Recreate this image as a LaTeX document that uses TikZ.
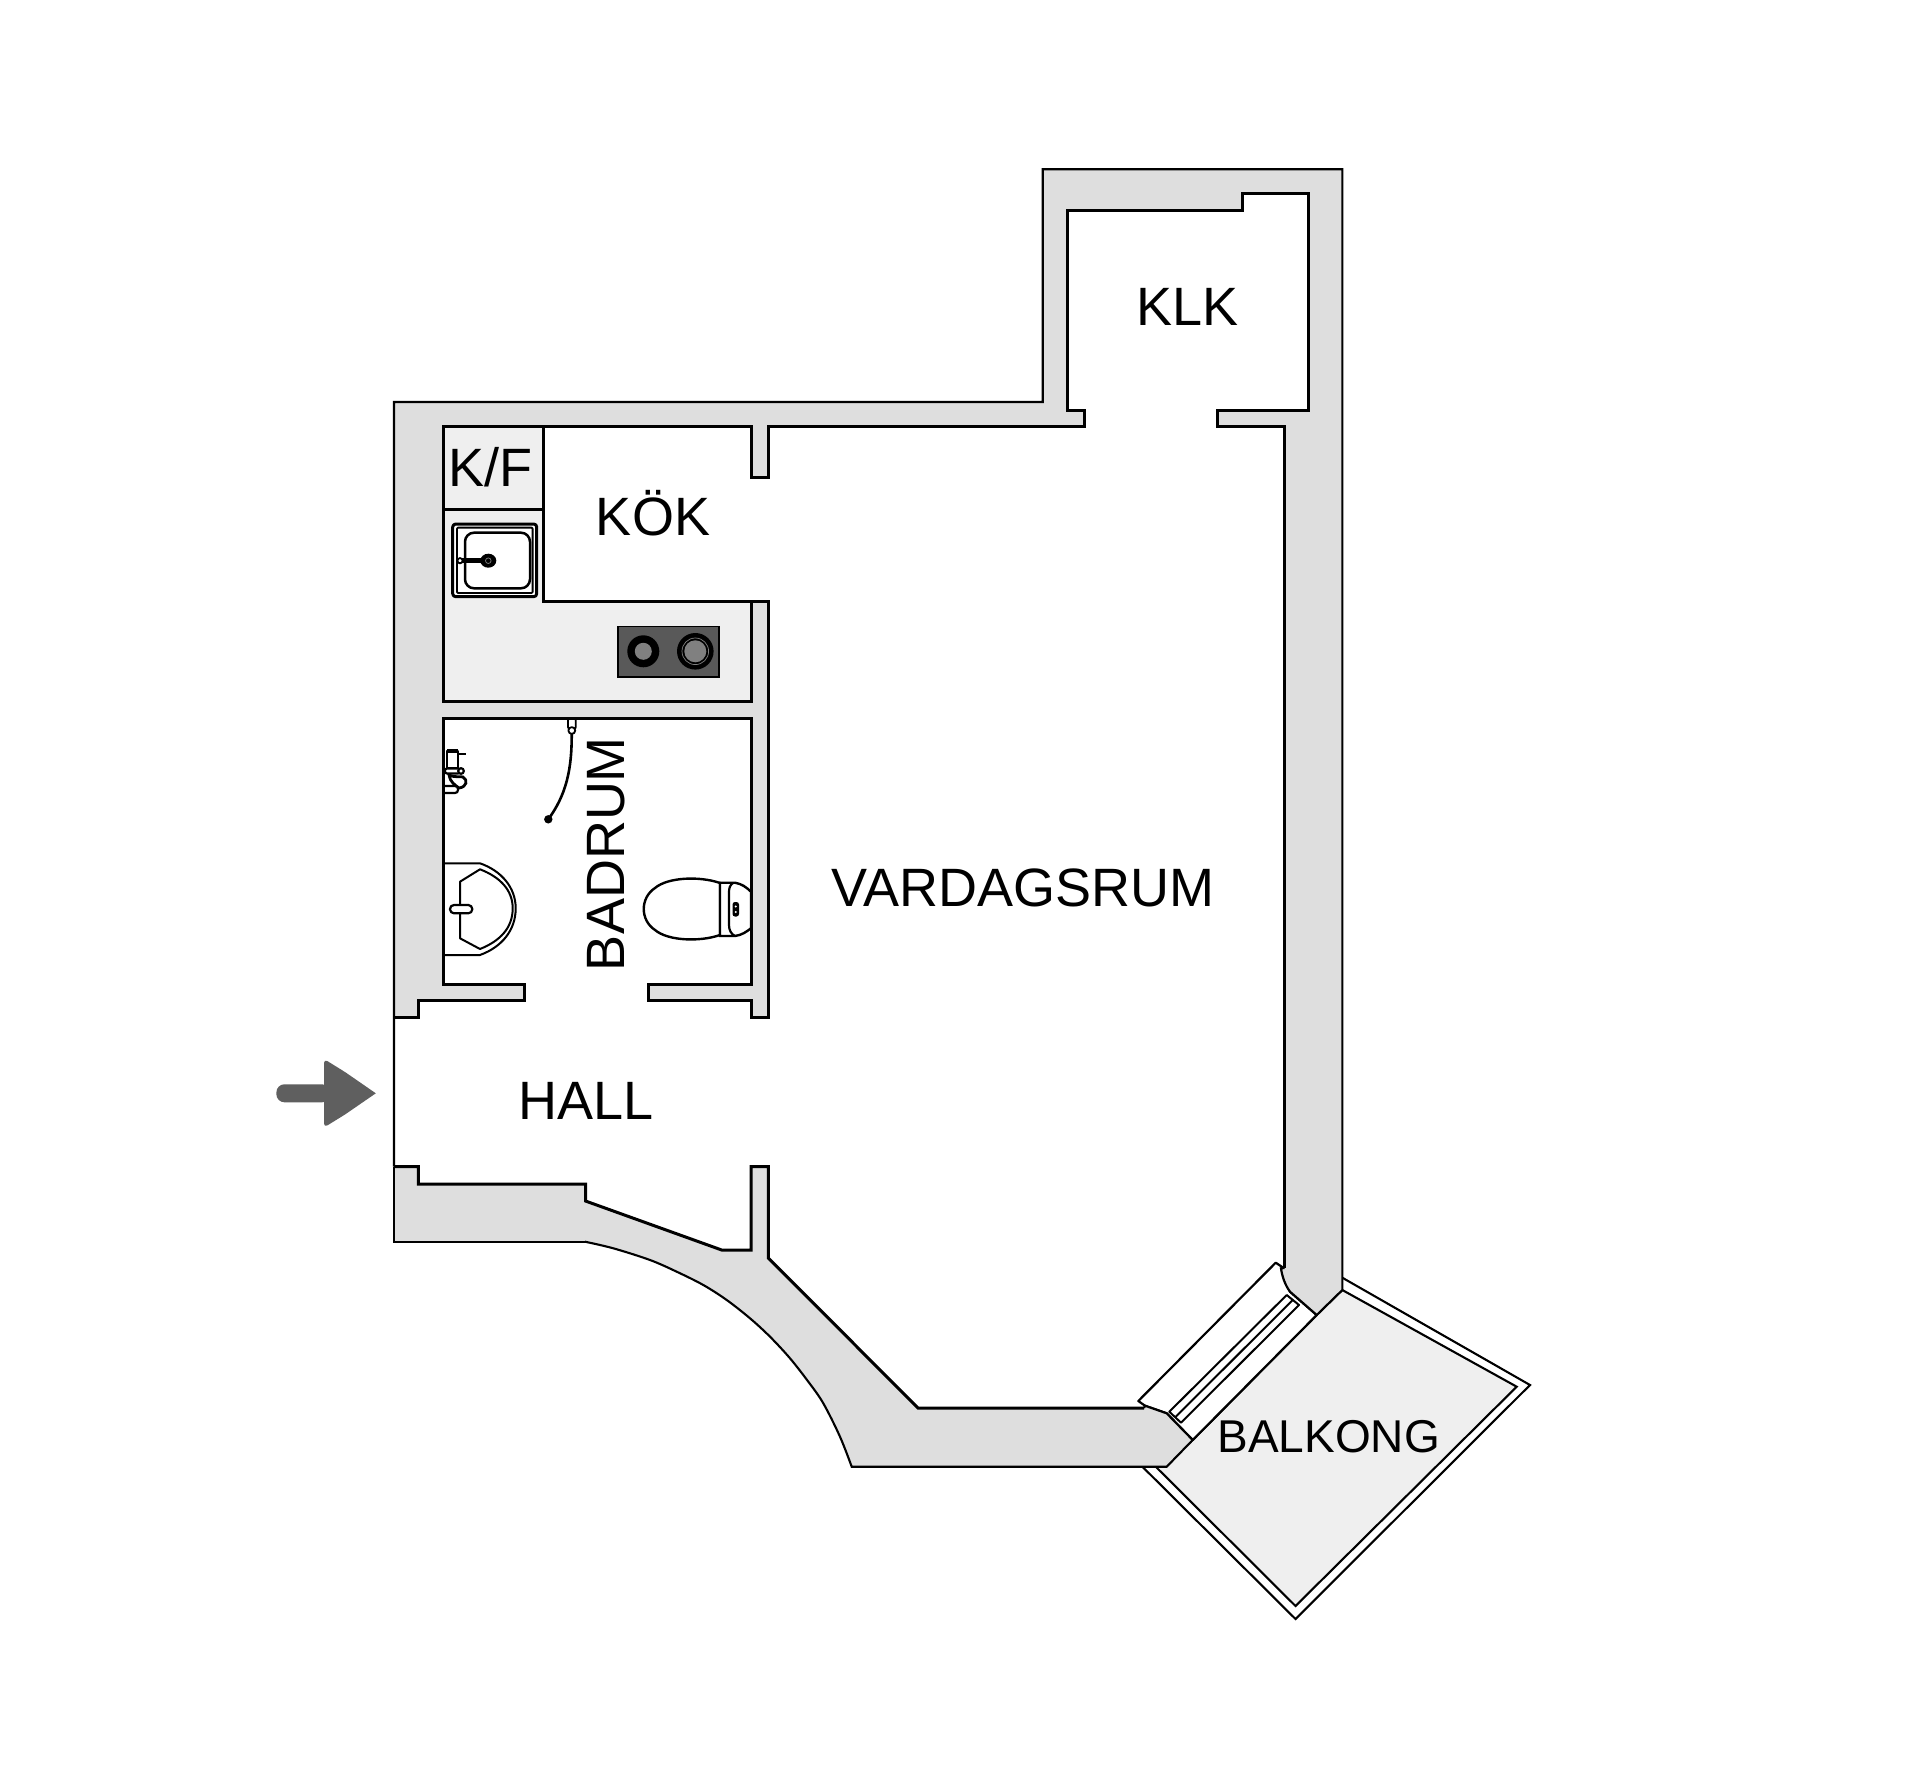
\documentclass[tikz,border=0pt]{standalone}
\usepackage{fontspec}
\setmainfont{Liberation Sans}
\definecolor{wallgray}{HTML}{DEDEDE}
\definecolor{benchgray}{HTML}{EFEFEF}
\definecolor{arrowgray}{HTML}{5F5F5F}
\definecolor{hobgray}{HTML}{595959}
\definecolor{plategray}{HTML}{808080}
\tikzset{
  wallfill/.style={fill=wallgray,draw=none},
  outerline/.style={draw=black,line width=2.1pt,line join=miter},
  innerline/.style={draw=black,line width=3pt,line join=miter},
  fixture/.style={draw=black,line width=2pt,fill=white,line join=round},
  thinline/.style={draw=black,line width=2pt,line join=round},
  roomlabel/.style={anchor=base,inner sep=0pt,font=\fontsize{54}{60}\selectfont,text=black},
}
\begin{document}
\begin{tikzpicture}[x=1pt,y=-1pt]
\useasboundingbox (0,0) rectangle (1920,1787);
\fill[white] (0,0) rectangle (1920,1787);

% balcony
\path[fill=white,outerline] (1342.3,1277.7) -- (1530,1385) -- (1295.5,1619) -- (1142.7,1467) -- cycle;
\path[fill=benchgray,outerline] (1342.3,1290) -- (1516.7,1386.7) -- (1295.5,1606) -- (1156,1467) -- (1192.7,1440) -- (1316.7,1315) -- cycle;

% window recess
\path[fill=white,thinline,line width=2.2pt] (1283.3,1267.7) -- (1275.7,1262.7) -- (1138.3,1401) -- (1145,1405.7) -- (1166.7,1413.3) -- (1192.7,1440) -- (1316.7,1315) -- (1290,1291.7) -- cycle;
\path[fill=white,thinline] (1286.7,1295) -- (1299,1305) -- (1181,1422.7) -- (1169.3,1411.7) -- cycle;
\draw[thinline] (1292.8,1300) -- (1175.2,1417.2);

% kitchen bench
\path[fill=benchgray] (443.3,426.7) -- (543.3,426.7) -- (543.3,601.3) -- (751,601.3) -- (751,701) -- (443.3,701) -- cycle;
\draw[innerline] (543.3,426.7) -- (543.3,601.3) -- (751,601.3);
\draw[innerline] (443.3,509.3) -- (543.3,509.3);

% kitchen sink
\draw[fixture,line width=3pt,rounded corners=3pt] (452.7,524) rectangle (536.7,596.7);
\draw[thinline,line width=1.8pt,rounded corners=1pt] (457,527.6) rectangle (532.6,593);
\draw[thinline,line width=2.5pt,rounded corners=9pt] (465,532.7) rectangle (530,588.3);
\draw[line width=4.5pt] (460,560.7) -- (488.3,560.7);
\fill[black] (488.3,560.7) ellipse (8 and 7);
\draw[plategray,line width=.7pt] (488.3,560.7) circle (2.8);
\draw[fill=white,line width=1.8pt] (460,560.7) circle (2.6);

% hob
\path[fill=hobgray,draw=black,line width=1.6pt] (617.8,626.5) rectangle (718.8,676.8);
\fill[black] (643.3,651.3) circle (16);
\fill[plategray] (643.3,651.3) circle (8.5);
\fill[black] (695.3,651.3) circle (18.3);
\fill[plategray] (695.3,651.3) circle (11);
\draw[plategray,line width=.7pt] (695.3,651.3) circle (13.3);

% shower
\draw[line width=2.6pt] (571.7,733) .. controls (572,770) and (566,795) .. (548.3,819.3);
\fill[black] (548.3,819.3) circle (4.2);
\draw[fixture,line width=1.8pt,rounded corners=2pt] (568,718.3) rectangle (575.8,729);
\draw[fixture,line width=1.8pt] (571.8,730.5) circle (3.4);

% wall tap
\draw[line width=1.2pt] (446,754) -- (466,754);
\draw[fixture,line width=2.8pt] (447,751) rectangle (458,768);
\draw[line width=3.4pt] (447,751) -- (458,751);
\draw[fixture,line width=2.2pt,rounded corners=2pt] (445,768.5) rectangle (460,773.5);
\draw[fill=white,line width=2.2pt] (461,771) circle (2.8);
\path[fill=white,draw=black,line width=2.8pt] (449,775) .. controls (456,778) and (460,776) .. (463,777) .. controls (468,780) and (467,787) .. (459,788) .. controls (455,785) and (450,782) .. (449,775) -- cycle;
\path[fill=white,draw=black,line width=2.2pt,rounded corners=3pt] (445,786) -- (458,786) -- (458,793) -- (445,793);

% basin
\draw[fixture] (443.3,863.3) -- (480,863.3) .. controls (502,871) and (515.7,888) .. (515.7,908.3) .. controls (515.7,930) and (502,947) .. (480,955) -- (443.3,955);
\draw[thinline] (460,881.7) -- (480,869.3) .. controls (500,877) and (512.7,890) .. (512.7,908.3) .. controls (512.7,928) and (500,941) .. (480,949) -- (460,938.3) -- cycle;
\draw[fixture,line width=2.2pt,rounded corners=4pt] (450,905) rectangle (472.3,913.3);

% toilet
\path[fill=white,draw=black,line width=2.4pt] (720,883) .. controls (700,876) and (668,877) .. (655,888) .. controls (640,898) and (640,920) .. (655,930) .. controls (668,941) and (700,942) .. (720,935) -- cycle;
\path[fill=white,draw=black,line width=2.4pt] (720,882.7) -- (735,882.7) .. controls (742,884) and (746,887) .. (751,891.7) -- (751,928.3) .. controls (746,932) and (742,935) .. (735,936) -- (720,936) -- cycle;
\draw[line width=2.2pt] (733,883) .. controls (730,885) and (729,888) .. (729,892) -- (729,925) .. controls (729,930) and (731,934) .. (735,936);
\path[fill=black,rounded corners=2.5pt] (732.5,902) rectangle (739,916.5);
\fill[white] (735.7,906.5) circle (1.1);
\fill[white] (735.7,912) circle (1.1);

% upper wall mass
\path[wallfill] (394,1017.7) -- (394,402) -- (1042.7,402) -- (1042.7,169.3) -- (1342.3,169.3) -- (1342.3,1290) -- (1316.7,1315) -- (1290,1291.7) .. controls (1285,1285) and (1282,1276) .. (1281,1268.3) -- (1284.5,1268) -- (1284.5,426.7) -- (1217.3,426.7) -- (1217.3,410) -- (1308.3,410) -- (1308.3,194) -- (1242.3,194) -- (1242.3,210.7) -- (1067.3,210.7) -- (1067.3,410) -- (1084.3,410) -- (1084.3,426.7) -- (768.3,426.7) -- (768.3,477.3) -- (751,477.3) -- (751,426.7) -- (443.3,426.7) -- (443.3,701) -- (751,701) -- (751,601.3) -- (768.3,601.3) -- (768.3,1017.7) -- (751,1017.7) -- (751,1000.7) -- (648.3,1000.7) -- (648.3,984.3) -- (751,984.3) -- (751,718.3) -- (443.3,718.3) -- (443.3,984.3) -- (524.3,984.3) -- (524.3,1000.7) -- (418.3,1000.7) -- (418.3,1017.7) -- cycle;
\draw[outerline] (394,1166.7) -- (394,402) -- (1042.7,402) -- (1042.7,169.3) -- (1342.3,169.3) -- (1342.3,1290) -- (1316.7,1315);
\draw[innerline,line width=2.2pt] (1316.7,1315) -- (1290,1291.7) .. controls (1285,1285) and (1282,1276) .. (1281,1268.3) -- (1284.5,1268);
\draw[innerline] (1284.5,1268) -- (1284.5,426.7) -- (1217.3,426.7) -- (1217.3,410) -- (1308.3,410) -- (1308.3,194) -- (1242.3,194) -- (1242.3,210.7) -- (1067.3,210.7) -- (1067.3,410) -- (1084.3,410) -- (1084.3,426.7) -- (768.3,426.7) -- (768.3,477.3) -- (751,477.3) -- (751,426.7) -- (443.3,426.7) -- (443.3,701) -- (751,701) -- (751,601.3) -- (768.3,601.3) -- (768.3,1017.7) -- (751,1017.7) -- (751,1000.7) -- (648.3,1000.7) -- (648.3,984.3) -- (751,984.3) -- (751,718.3) -- (443.3,718.3) -- (443.3,984.3) -- (524.3,984.3) -- (524.3,1000.7) -- (418.3,1000.7) -- (418.3,1017.7) -- (394,1017.7);

% lower wall mass
\path[wallfill] plot[smooth,tension=.55] coordinates {(585,1241.7) (613.3,1248.3) (650,1260) (676.7,1271.7) (703.3,1285) (726.7,1300) (750,1318.3) (770,1336.7) (790,1358.3) (808.3,1381.7) (823.3,1403.3) (840,1436.7) (851.7,1466.7)} -- (1166.7,1466.7) -- (1192.7,1440) -- (1166.7,1413.3) -- (1145,1405.7) -- (1144,1408) -- (918,1408) -- (768.3,1258) -- (768.3,1166.7) -- (751,1166.7) -- (751,1250) -- (721.7,1250) -- (585.5,1201) -- (585.5,1184) -- (418.3,1184) -- (418.3,1166.7) -- (394,1166.7) -- (394,1241.7) -- cycle;
\draw[outerline] plot[smooth,tension=.55] coordinates {(585,1241.7) (613.3,1248.3) (650,1260) (676.7,1271.7) (703.3,1285) (726.7,1300) (750,1318.3) (770,1336.7) (790,1358.3) (808.3,1381.7) (823.3,1403.3) (840,1436.7) (851.7,1466.7)} -- (1166.7,1466.7) -- (1192.7,1440);
\draw[outerline] (585,1241.7) -- (394,1241.7) -- (394,1166.7);
\draw[innerline] (394,1166.7) -- (418.3,1166.7) -- (418.3,1184) -- (585.5,1184) -- (585.5,1201) -- (721.7,1250) -- (751,1250) -- (751,1166.7) -- (768.3,1166.7) -- (768.3,1258) -- (918,1408) -- (1144,1408);
\draw[innerline,line width=2.2pt] (1144,1408) -- (1145,1405.7) -- (1166.7,1413.3) -- (1192.7,1440);

% entry arrow
\path[fill=arrowgray,rounded corners=8pt] (276.4,1084.3) -- (330,1084.3) -- (330,1102.3) -- (276.4,1102.3) -- cycle;
\path[fill=arrowgray,rounded corners=4pt] (324,1059) -- (345,1072) [sharp corners] -- (375.8,1093.3) -- (345,1114.5) [rounded corners=4pt] -- (324,1127.5) -- cycle;

% labels
\node[roomlabel] (klk) at (1187.5,325.5) {KLK};
\node[roomlabel] (kf) at (490.5,486.7) {K/F};
\node[roomlabel] (kok) at (653,535) {KÖK};
\node[roomlabel,rotate=90] (badrum) at (624.3,854) {BADRUM};
\node[roomlabel] (vard) at (1023,906) {VARDAGSRUM};
\node[roomlabel] (hall) at (586,1119) {HALL};
\node[roomlabel,font=\fontsize{46}{50}\selectfont] (balkong) at (1328.7,1452.7) {BALKONG};
\end{tikzpicture}
\end{document}
